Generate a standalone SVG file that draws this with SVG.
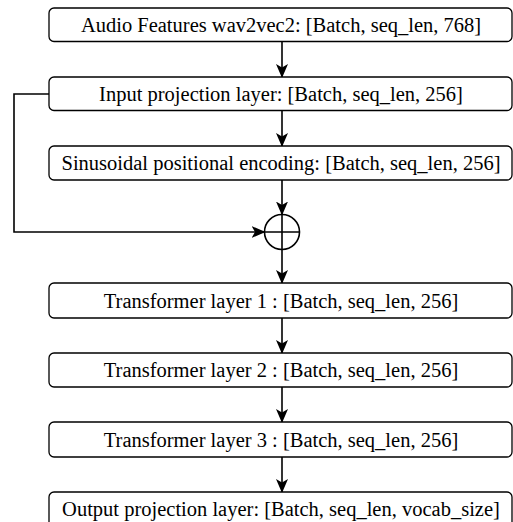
<svg xmlns="http://www.w3.org/2000/svg" width="513" height="522" viewBox="0 0 513 522">
  <style>
    .box { fill: #ffffff; stroke: #000000; stroke-width: 1.3; }
    .lbl { font-family: "Liberation Serif", "Times New Roman", "DejaVu Serif", serif; font-size: 20.5px; fill: #000000; text-anchor: middle; }
    .edge { fill: none; stroke: #000000; stroke-width: 1.6; }
  </style>
  <defs>
    <marker id="arrow" viewBox="0 0 14 12" refX="13" refY="6" markerWidth="14" markerHeight="12" markerUnits="userSpaceOnUse" orient="auto">
      <path d="M0,0 L14,6 L0,12 L3.5,6 Z" fill="#000000"/>
    </marker>
  </defs>
  <rect width="513" height="522" fill="#ffffff"/>

  <g id="connectors">
    <path class="edge" d="M282,41.5 L282,77" marker-end="url(#arrow)"/>
    <path class="edge" d="M282,110.5 L282,146" marker-end="url(#arrow)"/>
    <path class="edge" d="M282,180 L282,214.5" marker-end="url(#arrow)"/>
    <path class="edge" d="M49,94 L14,94 L14,232 L264.5,232" marker-end="url(#arrow)"/>
    <path class="edge" d="M282,249.5 L282,283" marker-end="url(#arrow)"/>
    <path class="edge" d="M282,318 L282,353" marker-end="url(#arrow)"/>
    <path class="edge" d="M282,387 L282,422" marker-end="url(#arrow)"/>
    <path class="edge" d="M282,457 L282,492" marker-end="url(#arrow)"/>
  </g>

  <g id="audio-features">
    <rect class="box" x="49" y="8" width="463" height="33.5" rx="5"/>
    <text class="lbl" x="281" y="31.5">Audio Features wav2vec2: [Batch, seq_len, 768]</text>
  </g>
  <g id="input-projection">
    <rect class="box" x="49" y="77" width="463" height="33.5" rx="5"/>
    <text class="lbl" x="281" y="101">Input projection layer: [Batch, seq_len, 256]</text>
  </g>
  <g id="positional-encoding">
    <rect class="box" x="49" y="146" width="463" height="34" rx="5"/>
    <text class="lbl" x="281" y="170">Sinusoidal positional encoding: [Batch, seq_len, 256]</text>
  </g>
  <g id="add">
    <circle cx="282" cy="232" r="17.5" fill="#ffffff" stroke="#000000" stroke-width="1.6"/>
    <path d="M264.5,232 L299.5,232 M282,214.5 L282,249.5" stroke="#000000" stroke-width="1.6" fill="none"/>
  </g>
  <g id="transformer-1">
    <rect class="box" x="49" y="283" width="463" height="35" rx="5"/>
    <text class="lbl" x="281" y="307.5">Transformer layer 1 : [Batch, seq_len, 256]</text>
  </g>
  <g id="transformer-2">
    <rect class="box" x="49" y="353" width="463" height="34" rx="5"/>
    <text class="lbl" x="281" y="377">Transformer layer 2 : [Batch, seq_len, 256]</text>
  </g>
  <g id="transformer-3">
    <rect class="box" x="49" y="422" width="463" height="35" rx="5"/>
    <text class="lbl" x="281" y="446.5">Transformer layer 3 : [Batch, seq_len, 256]</text>
  </g>
  <g id="output-projection">
    <rect class="box" x="49" y="492" width="463" height="36" rx="5"/>
    <text class="lbl" x="281" y="515.5">Output projection layer: [Batch, seq_len, vocab_size]</text>
  </g>
</svg>
